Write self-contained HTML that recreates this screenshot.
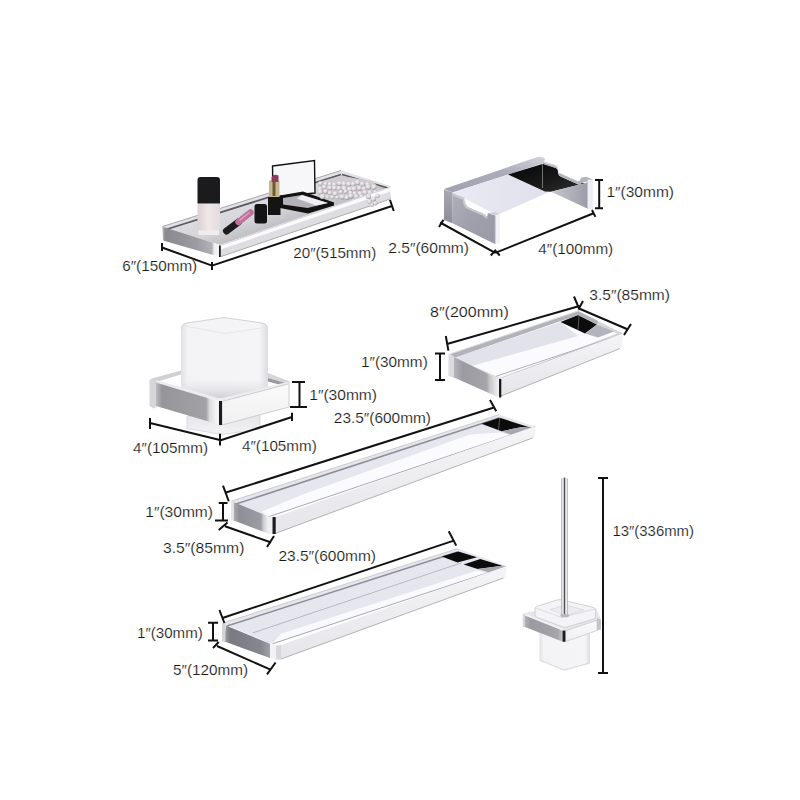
<!DOCTYPE html>
<html><head><meta charset="utf-8">
<style>
html,body{margin:0;padding:0;background:#fff;width:800px;height:800px;overflow:hidden}
svg{display:block}
.t{font-family:"Liberation Sans",sans-serif;font-size:14px;fill:#1a1a1a;stroke:#fff;stroke-width:0.15px}
.d{stroke:#111;stroke-width:2;fill:none;stroke-linecap:butt}
</style></head><body>
<svg width="800" height="800" viewBox="0 0 800 800">
<defs>
<linearGradient id="gL" x1="0" y1="0" x2="1" y2="0"><stop offset="0" stop-color="#c8c8cc"/><stop offset="0.15" stop-color="#8e8e94"/><stop offset="0.7" stop-color="#a4a4aa"/><stop offset="1" stop-color="#b8b8be"/></linearGradient>
<linearGradient id="gF" x1="0" y1="0" x2="0" y2="1"><stop offset="0" stop-color="#f4f4f6"/><stop offset="1" stop-color="#e6e6ea"/></linearGradient>
<linearGradient id="gCup" x1="0" y1="0" x2="1" y2="0"><stop offset="0" stop-color="#e2e2e6"/><stop offset="0.08" stop-color="#f3f3f5"/><stop offset="0.9" stop-color="#f5f5f7"/><stop offset="1" stop-color="#dcdce0"/></linearGradient>
<linearGradient id="gDark" x1="0" y1="0" x2="1" y2="1"><stop offset="0" stop-color="#050505"/><stop offset="0.6" stop-color="#1a1a1a"/><stop offset="1" stop-color="#333"/></linearGradient>
<linearGradient id="gRod" x1="0" y1="0" x2="1" y2="0"><stop offset="0" stop-color="#a4a4a8"/><stop offset="0.18" stop-color="#e6e6ea"/><stop offset="0.36" stop-color="#c8c8cc"/><stop offset="0.5" stop-color="#505054"/><stop offset="0.62" stop-color="#c4c4c8"/><stop offset="0.8" stop-color="#eeeef0"/><stop offset="1" stop-color="#a0a0a4"/></linearGradient>
<linearGradient id="gTpL" x1="0" y1="0" x2="0" y2="1"><stop offset="0" stop-color="#a8a8b4"/><stop offset="1" stop-color="#8e8e9a"/></linearGradient>
<linearGradient id="gTpB" x1="0" y1="0" x2="1" y2="1"><stop offset="0" stop-color="#b0b0bc"/><stop offset="0.5" stop-color="#a0a0ac"/><stop offset="1" stop-color="#9a9aa6"/></linearGradient>
<linearGradient id="gTpR" x1="0" y1="0" x2="1" y2="0"><stop offset="0" stop-color="#c8c8d0"/><stop offset="1" stop-color="#9c9ca8"/></linearGradient>
<linearGradient id="gLav" x1="0" y1="0" x2="1" y2="0"><stop offset="0" stop-color="#eaeaf4"/><stop offset="1" stop-color="#e0e0ec"/></linearGradient>
<linearGradient id="gCupL" x1="0" y1="0" x2="1" y2="0"><stop offset="0" stop-color="#bcbcc0"/><stop offset="0.1" stop-color="#96969a"/><stop offset="0.82" stop-color="#a2a2a6"/><stop offset="0.88" stop-color="#dcdce0"/><stop offset="1" stop-color="#f6f6f8"/></linearGradient>
<linearGradient id="gCupB" x1="0" y1="0" x2="0" y2="1"><stop offset="0" stop-color="#e4e4e8"/><stop offset="1" stop-color="#f4f4f6"/></linearGradient>
<linearGradient id="gCupR" x1="0" y1="0" x2="0" y2="1"><stop offset="0" stop-color="#fafafa"/><stop offset="1" stop-color="#f0f0f2"/></linearGradient>
<linearGradient id="gGlass" gradientUnits="userSpaceOnUse" x1="220" y1="208" x2="231.7" y2="242.2"><stop offset="0" stop-color="#dedee2"/><stop offset="0.6" stop-color="#d4d4d8"/><stop offset="1" stop-color="#bdbdc2"/></linearGradient>
<linearGradient id="gBottle" x1="0" y1="0" x2="1" y2="0"><stop offset="0" stop-color="#dcd2d4"/><stop offset="0.5" stop-color="#efe7e8"/><stop offset="1" stop-color="#e2dadc"/></linearGradient>
<linearGradient id="gShL" x1="0" y1="0" x2="1" y2="0"><stop offset="0" stop-color="#d8d8dc"/><stop offset="0.05" stop-color="#88888e"/><stop offset="0.6" stop-color="#9c9ca2"/><stop offset="0.86" stop-color="#b0b0b6"/><stop offset="0.9" stop-color="#f0f0f2"/><stop offset="1" stop-color="#f4f4f6"/></linearGradient>
<linearGradient id="gRingL" x1="0" y1="0" x2="1" y2="0"><stop offset="0" stop-color="#b4b4ba"/><stop offset="0.2" stop-color="#9a9aa0"/><stop offset="0.72" stop-color="#a4a4aa"/><stop offset="0.8" stop-color="#c8c8cc"/><stop offset="1" stop-color="#f4f4f6"/></linearGradient>
<linearGradient id="gBarL" x1="0" y1="0" x2="1" y2="0"><stop offset="0" stop-color="#b0b0b6"/><stop offset="0.2" stop-color="#8e8e96"/><stop offset="0.78" stop-color="#9c9ca4"/><stop offset="0.86" stop-color="#d0d0d4"/><stop offset="1" stop-color="#f4f4f6"/></linearGradient>
<linearGradient id="gBar2L" x1="0" y1="0" x2="1" y2="0"><stop offset="0" stop-color="#a0a0a6"/><stop offset="0.15" stop-color="#7a7a82"/><stop offset="0.8" stop-color="#86868e"/><stop offset="1" stop-color="#a0a0a8"/></linearGradient>
<linearGradient id="gBrL" x1="0" y1="0" x2="1" y2="0"><stop offset="0" stop-color="#b4b4ba"/><stop offset="0.15" stop-color="#9a9aa0"/><stop offset="0.85" stop-color="#a4a4aa"/><stop offset="1" stop-color="#c8c8cc"/></linearGradient>
<linearGradient id="gTpS" x1="0" y1="1" x2="1" y2="0"><stop offset="0" stop-color="#a0a0ae"/><stop offset="0.6" stop-color="#acacba"/><stop offset="1" stop-color="#d4d4de"/></linearGradient>
<radialGradient id="gPearl" cx="0.4" cy="0.35" r="0.65"><stop offset="0" stop-color="#f6f4f6"/><stop offset="0.6" stop-color="#d6d2d6"/><stop offset="1" stop-color="#9c969c"/></radialGradient>
<linearGradient id="gCupLow" x1="0" y1="0" x2="0" y2="1"><stop offset="0" stop-color="#e8e8ec" stop-opacity="0"/><stop offset="1" stop-color="#d0d0d6" stop-opacity="1"/></linearGradient>
</defs>

<!-- ========== SHELF ========== -->
<g id="shelf">
  <!-- glass top -->
  <polygon points="162,226.5 220,245 391,186.5 341,170.5" fill="url(#gGlass)"/>
  <!-- back rail -->
  <polygon points="162,226.5 341,170.5 391,186.5 387,188.5 341,174.5 166,229.5" fill="#e2e2e6"/>
  <line x1="166" y1="229.5" x2="341" y2="174.5" stroke="#5a5a60" stroke-width="1.8"/>
  <line x1="342" y1="174.5" x2="388" y2="188" stroke="#55555a" stroke-width="1.6"/>
  <line x1="162.5" y1="226.5" x2="341" y2="170.5" stroke="#a8a8ae" stroke-width="1"/>
  <!-- bottle -->
  <rect x="197.5" y="203.5" width="22.5" height="27.5" fill="url(#gBottle)"/>
  <path d="M197.5,203.5 V180 Q197.5,177 200.5,177 H217 Q220,177 220,180 V203.5 Z" fill="#1b1b1d"/>
  <rect x="198.5" y="230.5" width="20.5" height="4.5" fill="#f2f0f2" opacity="0.9"/>
  <!-- lipstick lying -->
  <line x1="226.5" y1="231" x2="238.5" y2="222" stroke="#1c1c1c" stroke-width="7" stroke-linecap="round"/>
  <line x1="238.5" y1="222" x2="250.5" y2="212.5" stroke="#c0709c" stroke-width="6.5" stroke-linecap="round"/>
  <line x1="239.5" y1="220.3" x2="249.5" y2="212.5" stroke="#e0a0c4" stroke-width="1.5"/>
  <!-- small cap -->
  <rect x="254.5" y="204" width="12.5" height="19.5" rx="2.5" fill="#141416"/>
  <!-- compact mirror lid -->
  <polygon points="272.5,166 314.5,160.5 315,193 273,197" fill="#f7f7f9" stroke="#121212" stroke-width="1.4"/>
  <!-- compact base -->
  <polygon points="280,195.5 303,191.5 334,202.5 334,205.5 308,213.5 280,208" fill="#121212"/>
  <polygon points="283,198 302,195 328,203 307.5,208 283,204.5" fill="#b6b0b8"/>
  <polygon points="302,195 328,203 316,205.5 297,198.5" fill="#efeff3"/>
  <!-- lipstick standing -->
  <rect x="268" y="197" width="12.5" height="18" fill="#141414"/>
  <rect x="269" y="180.5" width="10.5" height="16.5" fill="#c8b78e"/>
  <rect x="272.5" y="181" width="3" height="15" fill="#6a5a3a"/>
  <path d="M271.5,182 V177 Q274,173.5 278.5,175.5 V182 Z" fill="#8c3c5c"/>
  <!-- pearls -->
  <polygon points="318,182 342,176 372,181 380,188 380,203 364,204 360,198 336,199 318,197" fill="#cfcbcf"/>
  <g fill="url(#gPearl)"><circle cx="320.5" cy="183.6" r="2.4"/><circle cx="325.5" cy="183.8" r="2.1"/><circle cx="329.7" cy="184.3" r="2.3"/><circle cx="334.2" cy="184.7" r="2.4"/><circle cx="339.5" cy="183.4" r="2.5"/><circle cx="343.9" cy="183.8" r="2.7"/><circle cx="348.7" cy="184.1" r="2.6"/><circle cx="353.0" cy="184.1" r="2.5"/><circle cx="357.6" cy="182.4" r="2.7"/><circle cx="362.4" cy="184.0" r="2.7"/><circle cx="367.6" cy="184.5" r="2.4"/><circle cx="319.9" cy="189.0" r="2.7"/><circle cx="324.2" cy="187.1" r="2.3"/><circle cx="329.7" cy="187.8" r="2.5"/><circle cx="334.3" cy="188.0" r="2.4"/><circle cx="338.9" cy="188.2" r="2.5"/><circle cx="344.3" cy="188.4" r="2.8"/><circle cx="349.6" cy="189.2" r="2.6"/><circle cx="354.0" cy="188.9" r="2.8"/><circle cx="359.4" cy="188.2" r="2.6"/><circle cx="363.9" cy="188.8" r="2.5"/><circle cx="368.4" cy="187.0" r="2.7"/><circle cx="373.9" cy="187.0" r="2.7"/><circle cx="320.3" cy="192.0" r="2.6"/><circle cx="325.6" cy="191.4" r="2.5"/><circle cx="329.9" cy="193.0" r="2.3"/><circle cx="335.2" cy="193.7" r="2.5"/><circle cx="340.7" cy="192.0" r="2.2"/><circle cx="345.7" cy="191.4" r="2.2"/><circle cx="350.4" cy="192.8" r="2.2"/><circle cx="354.7" cy="193.4" r="2.3"/><circle cx="360.1" cy="193.5" r="2.4"/><circle cx="364.9" cy="192.5" r="2.6"/><circle cx="369.9" cy="192.6" r="2.5"/><circle cx="375.3" cy="192.5" r="2.4"/><circle cx="322.5" cy="196.5" r="2.8"/><circle cx="327.4" cy="197.1" r="2.1"/><circle cx="332.1" cy="197.2" r="2.1"/><circle cx="337.1" cy="197.3" r="2.1"/><circle cx="342.1" cy="196.9" r="2.6"/><circle cx="346.8" cy="197.5" r="2.6"/><circle cx="351.0" cy="195.9" r="2.6"/><circle cx="356.4" cy="196.4" r="2.4"/><circle cx="361.4" cy="196.6" r="2.4"/><circle cx="366.0" cy="196.7" r="2.5"/><circle cx="370.6" cy="196.7" r="2.6"/><circle cx="374.9" cy="197.2" r="2.6"/><circle cx="364.4" cy="202.2" r="2.3"/><circle cx="368.9" cy="201.3" r="2.6"/><circle cx="373.2" cy="201.1" r="2.3"/></g>
  <!-- left short face -->
  <polygon points="162,226.5 220,245 220,257 163,240.5" fill="url(#gShL)"/>
  <!-- long front face -->
  <polygon points="220,245 390,187 391,199 221,257" fill="#dedee2"/>
  <polygon points="220,245 390,187 390.5,191.5 220.5,249.5" fill="#fbfbfc"/>
  <line x1="221" y1="245.3" x2="390" y2="187.3" stroke="#c8c8cc" stroke-width="0.8"/>
  <line x1="221" y1="256.5" x2="391" y2="198.8" stroke="#aeaeb2" stroke-width="1"/>
  <rect x="219" y="245.5" width="1.8" height="11.5" fill="#1e1e1e"/>
  <!-- pearl drape -->
  <g fill="url(#gPearl)"><circle cx="368.5" cy="196.5" r="2.6"/><circle cx="373.5" cy="199" r="2.6"/><circle cx="369.5" cy="201.8" r="2.4"/><circle cx="375.5" cy="203.2" r="2.2"/><circle cx="377.5" cy="195.8" r="2.3"/><circle cx="372" cy="205" r="2"/></g>
</g>

<!-- ========== TP HOLDER ========== -->
<g id="tp">
  <path d="M444,189 L537.5,157 Q542,155.8 545,158.5 L544,163 L452.5,192.5 Z" fill="url(#gTpS)"/>
  <polygon points="444,189.5 452.5,192.5 452,223 444,220" fill="url(#gTpL)"/>
  <polygon points="452.5,192.5 508,174.5 549,192 497,215" fill="url(#gLav)"/>
  <polygon points="508,174.5 544,163.5 556.3,168.3 558.2,170 558.8,175.2 561,176.8 579,184.8 581.5,183 586,183 551,191.75 545,191.5" fill="url(#gDark)"/>
  <line x1="542.5" y1="164" x2="542.5" y2="188" stroke="#8a8a8a" stroke-width="0.8"/>
  <polygon points="543,161.5 556,165.3 558.3,167.3 558.8,172.3 561,173.8 578,181.2 580.3,180 580.8,177.8 586.5,176.8 593,179.5 587.5,181.5 581.5,183 579,184.8 561,176.8 558.8,175.2 558.2,170 556.3,168.3 544,164.5" fill="#b4b4be"/>
  <polygon points="543,161.5 556,165.3 558.3,167.3 557.5,167.8 555.5,166.3 543.5,162.8" fill="#d8d8e0"/>
  <polygon points="557,166.8 559.5,167.5 560,173 558.5,174" fill="#f2f2f8"/>
  <polygon points="551,191.75 586,183 587.75,181.5 587.75,208.75" fill="url(#gTpR)"/>
  <polygon points="587.75,179.5 593,179.8 593,208.75 587.75,209.4" fill="#eeeef6"/>
  <polygon points="452.5,193 464,198 465,203 467,206.5 470,208 484,214 487,217 488,213 495,215.5 495,244 452,223" fill="url(#gTpB)"/>
  <polyline points="453,194.5 463.5,199 464.3,203.5 466.5,207.3 470,209.2 484,215.2 487,218" fill="none" stroke="#c8c8d2" stroke-width="2"/>
  <polyline points="464.8,199 465.6,203.2 467.6,206" fill="none" stroke="#f0f0f6" stroke-width="1"/>
  <polygon points="488,213 495,212 500,214 495,215.5" fill="#d0d0d8"/>
  <polygon points="495,215.5 500,214 500,243 495,244" fill="#f2f2f8"/>
  <line x1="495.3" y1="215.5" x2="495.3" y2="244" stroke="#c0c0ca" stroke-width="0.8"/>
</g>

<!-- ========== CUP HOLDER ========== -->
<g id="cup">
  <polygon points="149.5,380 157,378.5 157,406 154,408.5 149.5,406" fill="#d6d6da"/>
  <polygon points="150,379 181,370.5 181,374.5 156,382" fill="#d0d0d4"/>
  <polygon points="268,373 290,381.5 289,384.5 268,378" fill="#d6d6da"/>
  <polygon points="268,378 285,383 281,385 268,381.5" fill="#98989e"/>
  <path d="M181,329 Q181,323.5 187,322.5 L221,317.5 Q224,317 227,317.5 L262,322.5 Q268,323.5 268,329 L268,398 L181,398 Z" fill="url(#gCup)"/>
  <rect x="181" y="378" width="87" height="20" fill="url(#gCupLow)"/>
  <path d="M182,325.5 L225,333.5 L267.5,327" fill="none" stroke="#e6e6ea" stroke-width="1"/>
  <path d="M181.5,329 Q181.5,324 187,323 L221,318 Q224,317.5 227,318 L262,323 Q267.5,324 267.5,329" fill="none" stroke="#d4d4d8" stroke-width="1"/>
  <polygon points="187,416 260,414 260,429 222,434.5 187,428.5" fill="url(#gCupB)" stroke="#d4d4d8" stroke-width="0.8"/>
  <polygon points="156,380 220,398.5 289,381.5 289,384 220,401.5 156,382.5" fill="#ececf0"/>
  <polygon points="156,382.5 217,401 217,424 156,406" fill="url(#gCupL)"/>
  <polygon points="222,401.5 289,383.75 289,407 222,425" fill="url(#gCupR)" stroke="#c4c4c8" stroke-width="0.8"/>
  <rect x="217" y="400.8" width="2" height="24" fill="#f2f2f4"/>
  <rect x="219" y="401" width="3" height="24" fill="#1c1c1c"/>
</g>

<!-- ========== TOWEL RING ========== -->
<g id="ring">
  <polygon points="450,354 578,311 623,333.5 499,379" fill="#d6d6da"/>
  <polygon points="455,357.5 577,315 617,333.5 501,378.5" fill="#fbfbfd"/>
  <polygon points="455,357.5 560.5,322 578,336 470,366.5 460,361.5" fill="#e2e2ea"/>
  <polygon points="560.5,322 578,315 597,324.5 585,333.5" fill="#0c0c0c"/>
  <line x1="579" y1="316" x2="578" y2="330" stroke="#777" stroke-width="0.7"/>
  <polygon points="585,333.5 597,324.5 614,331.5 598,337.5" fill="#b4b4bc"/>
  <polygon points="450,354 578,311 581,312.5 598,321 597,324.5 578,315 455,357.5" fill="#b2b2ba"/>
  <line x1="450" y1="354" x2="578" y2="311" stroke="#dcdce0" stroke-width="1"/>
  <line x1="496" y1="376.3" x2="610" y2="338.3" stroke="#b0b0b8" stroke-width="1"/>
  <line x1="500" y1="378.3" x2="621" y2="334" stroke="#c0c0c6" stroke-width="0.8"/>
  <polygon points="448.5,353.5 454,356.5 454,378 448.5,376" fill="#dcdce0"/>
  <polygon points="454,357 499,379 499,397.5 454,377.5" fill="url(#gRingL)"/>
  <path d="M501,379 L620,334.5 Q623,333.5 623,336 L622,346 Q621.5,347.5 619,348.5 L501,396.5 Z" fill="url(#gF)"/>
  <line x1="501" y1="396" x2="620" y2="348.5" stroke="#b4b4b8" stroke-width="1"/>
  <rect x="499" y="379" width="2.3" height="18.5" fill="#1c1c1c"/>
</g>

<!-- ========== TOWEL BAR 1 ========== -->
<g id="bar1">
  <polygon points="231.5,501 499,414.5 535,426.5 268,516.5" fill="#e6e6ee"/>
  <line x1="232" y1="501" x2="499" y2="414.8" stroke="#d0d0d4" stroke-width="1.2"/>
  <line x1="236" y1="504" x2="499" y2="418" stroke="#8e8e96" stroke-width="1.5"/>
  <polygon points="481.4,423.8 499.75,417.7 531.5,428 522,427 501.5,431.2" fill="#0c0c0c"/>
  <line x1="499.6" y1="418" x2="498.6" y2="430" stroke="#777" stroke-width="0.7"/>
  <polygon points="501.5,431.2 522,427 531.5,428 534,429.5 512.2,435" fill="#a8a8b0"/>
  <polygon points="262,511.5 300,495.5 470,434.5 500.6,432.6 512,435.8 534,429.5 535,427 268,517" fill="#fbfbfd"/>
  <line x1="268" y1="517" x2="535" y2="426.8" stroke="#a8a8b0" stroke-width="1"/>
  <polygon points="233.5,502 267.5,516 268.75,533.75 232.5,520" fill="url(#gBarL)"/>
  <rect x="231" y="501" width="3" height="19" fill="#e4e4e8"/>
  <path d="M274,517.5 L533,427 Q535.5,426.3 535.5,429 L535,436 Q534.8,437.5 533,438 L275,534 Z" fill="url(#gF)"/>
  <line x1="275" y1="533.5" x2="533" y2="437.8" stroke="#b4b4b8" stroke-width="1"/>
  <rect x="267.5" y="516.5" width="5" height="17.5" fill="#f0f0f2"/>
  <rect x="272.5" y="517" width="3.2" height="17" fill="#1c1c1c"/>
</g>

<!-- ========== TOWEL BAR 2 ========== -->
<g id="bar2">
  <polygon points="222.5,623 457.5,548.5 506.5,566 270,643.5" fill="#e6e6ee"/>
  <line x1="223" y1="623" x2="457.5" y2="548.8" stroke="#d0d0d4" stroke-width="1.2"/>
  <line x1="227" y1="626" x2="457.5" y2="552" stroke="#8e8e96" stroke-width="1.5"/>
  <polygon points="441.75,556.4 458.4,551.4 477,557.3 457.5,562.5" fill="#0c0c0c"/>
  <polygon points="463.6,564.5 480.25,559 502.3,565.8 477.6,569" fill="#0c0c0c"/>
  <polygon points="477.6,569 502.3,565.8 506,567 489,572.5" fill="#a8a8b0"/>
  <line x1="252.5" y1="633" x2="461" y2="563" stroke="#b8b8c0" stroke-width="1"/>
  <polygon points="281,633.7 477,570.5 489,573.2 506,567.2 506.5,566.8 272,644" fill="#fafafc"/>
  <line x1="272.5" y1="643.75" x2="506" y2="566.8" stroke="#a8a8b0" stroke-width="1"/>
  <polygon points="226,625.6 270,643.75 270,658 223.75,641.25" fill="url(#gBar2L)"/>
  <rect x="222" y="623" width="3.5" height="18.5" fill="#d4d4d8"/>
  <path d="M281,645 L504,567 Q506.5,566.2 506.5,569 L505.5,576 Q505.3,577.5 503.5,578 L281,659.5 Z" fill="url(#gF)"/>
  <line x1="281" y1="659" x2="503.5" y2="578" stroke="#b4b4b8" stroke-width="1"/>
  <polygon points="270,643.75 276,645.5 276,659.5 270,658" fill="#f2f2f4"/>
  <polygon points="276,645.5 281,645 281,659.5 276,659.5" fill="#d8d8dc"/>
</g>

<!-- ========== TOILET BRUSH ========== -->
<g id="brush">
  <path d="M539.5,632 L590,632 L590,662 Q590,664 588,664.5 L567,670.5 Q565,671.2 563,670.5 L541.5,662 Q539.5,661.2 539.5,659 Z" fill="url(#gCup)"/>
  <path d="M540,660 L564,670 L589.5,663" fill="none" stroke="#dadade" stroke-width="1"/>
  <polygon points="522.5,614 530,611.5 596,608 601,619.4 565,631 523,615.5" fill="#e6e6ea"/>
  <path d="M536.5,606.5 L557,600 Q559.5,599.3 562,600 L593,607.3 Q595.5,608 595.5,610.5 L595.5,616.5 Q595.5,618.5 593,619.3 L567,627 Q565,627.6 563,627 L537,617.5 Q535,616.8 535,614.5 L535,609 Q535,607 536.5,606.5 Z" fill="#f4f4f7" stroke="#d0d0d6" stroke-width="1"/>
  <path d="M536,608 L562,617.5 L595,609" fill="none" stroke="#dcdce2" stroke-width="1"/>
  <polygon points="550,609.5 566,605 584,610 566,615.5" fill="#ebebf0" stroke="#d8d8de" stroke-width="0.8"/>
  <rect x="561.2" y="477.5" width="6.6" height="138" rx="3" ry="2" fill="url(#gRod)"/>
  <ellipse cx="564.7" cy="615.5" rx="4.5" ry="1.8" fill="#b8b8c0"/>
  <polygon points="522.7,614 525,614 525,627 522.7,627" fill="#d8d8dc"/>
  <polygon points="524.8,614.5 563,630.6 563,641.75 524.8,627" fill="url(#gBrL)"/>
  <polygon points="524.8,613.5 563,628.6 563,630.8 524.8,615.5" fill="#f2f2f4"/>
  <polygon points="565.6,630.8 597,620.2 597,630.5 565.6,641.5" fill="url(#gCupR)" stroke="#c8c8cc" stroke-width="0.8"/>
  <polygon points="597,618 601,619.4 601,629.5 597,630.5" fill="#c4c4ca"/>
  <rect x="562.6" y="630.6" width="2.8" height="11.2" fill="#1e1e1e"/>
</g>

<!-- ========== DIMENSION LINES ========== -->
<g class="d">
  <!-- shelf -->
  <path d="M162,243V251 M162,247.5L212,265.6 M212,262V270 M212,265.6L392,206 M390,200L393.75,211"/>
  <!-- tp -->
  <path d="M595,180H603 M599.2,180V208.25 M595,208.25H603 M439,227L443.5,219.8 M440.1,222.5L495.25,252.9 M490.75,255.5L495.25,250.6L499.75,255.5 M495.25,252.9L593,213.5 M592,210L595.4,216.9"/>
  <!-- cup -->
  <path d="M150,418V429 M150,423L220,440 M220,433.75V445.5 M220,440.5L292,417 M292,412.8V421 M292,382H305 M299.5,382V407 M290,407H307"/>
  <!-- ring -->
  <path d="M435,353.5H445 M440,353.5V380 M435,380H445 M445.8,336L448.4,350.6 M447,344L579.5,306 M574,296.5L579,308.5L583,301 M579,308.5L628,329.5 M624,335L631,324"/>
  <!-- bar1 -->
  <path d="M223,485.6L228.75,501.25 M226,492.5L494,407.5 M490,400L496.25,411.25 M218.75,503H227.5 M223,503V520.6 M215,520.6H228 M218.75,530L227.5,522.5 M225,526.25L271.25,542.5 M267,547L274,536"/>
  <!-- bar2 -->
  <path d="M219.4,610L224.4,623 M222.5,618L453.75,540.6 M448.75,531.25L456.25,545.6 M208,622.75H218 M213,622.75V640.6 M208,640.6H218 M213,648L218.75,642 M217,646L270,669.4 M267,674.4L275.6,662.5"/>
  <!-- brush -->
  <path d="M598,478H608 M603,478V673 M598,673H608"/>
</g>

<!-- ========== TEXT ========== -->
<g class="t">
  <text x="122.20" y="270.5" textLength="75.00" lengthAdjust="spacingAndGlyphs">6″(150mm)</text>
  <text x="293.30" y="257.7" textLength="82.90" lengthAdjust="spacingAndGlyphs">20″(515mm)</text>
  <text x="388.30" y="252.8" textLength="80.70" lengthAdjust="spacingAndGlyphs">2.5″(60mm)</text>
  <text x="538.25" y="254" textLength="74.95" lengthAdjust="spacingAndGlyphs">4″(100mm)</text>
  <text x="606.40" y="197" textLength="67.60" lengthAdjust="spacingAndGlyphs">1″(30mm)</text>
  <text x="430.00" y="317.25" textLength="78.75" lengthAdjust="spacingAndGlyphs">8″(200mm)</text>
  <text x="589.25" y="299.8" textLength="80.75" lengthAdjust="spacingAndGlyphs">3.5″(85mm)</text>
  <text x="361.00" y="366.7" textLength="66.75" lengthAdjust="spacingAndGlyphs">1″(30mm)</text>
  <text x="309.25" y="399.75" textLength="67.75" lengthAdjust="spacingAndGlyphs">1″(30mm)</text>
  <text x="333.80" y="423.4" textLength="97.20" lengthAdjust="spacingAndGlyphs">23.5″(600mm)</text>
  <text x="133.00" y="453" textLength="75.00" lengthAdjust="spacingAndGlyphs">4″(105mm)</text>
  <text x="242.00" y="450.5" textLength="74.75" lengthAdjust="spacingAndGlyphs">4″(105mm)</text>
  <text x="145.25" y="516.5" textLength="67.75" lengthAdjust="spacingAndGlyphs">1″(30mm)</text>
  <text x="163.00" y="552.75" textLength="81.40" lengthAdjust="spacingAndGlyphs">3.5″(85mm)</text>
  <text x="278.50" y="560.7" textLength="97.50" lengthAdjust="spacingAndGlyphs">23.5″(600mm)</text>
  <text x="137.00" y="638.4" textLength="65.80" lengthAdjust="spacingAndGlyphs">1″(30mm)</text>
  <text x="173.00" y="675" textLength="75.00" lengthAdjust="spacingAndGlyphs">5″(120mm)</text>
  <text x="612.50" y="536.25" textLength="81.50" lengthAdjust="spacingAndGlyphs">13″(336mm)</text>
</g>
</svg>
</body></html>
